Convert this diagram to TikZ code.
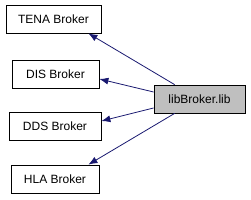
\documentclass[tikz,border=0pt]{standalone}
\usepackage{fontspec}
\setmainfont{Liberation Sans}
\usetikzlibrary{arrows.meta}
\begin{document}
\begin{tikzpicture}[x=1pt, y=1pt, font=\fontsize{12}{14}\selectfont, >={Latex[length=9pt,width=7pt]},
        dep/.style={draw=black, line width=0.8pt, minimum height=28pt, inner sep=0pt},
        libbox/.style={dep, fill=black!25}, link/.style={->, draw={rgb,255:red,25;green,25;blue,112}, line width=0.8pt}]
      \useasboundingbox (0,0) rectangle (251,200);
      \node[dep, minimum width=95pt]    (tena) at (53.5,181)  {TENA Broker};
      \node[dep, minimum width=87pt]    (dis)  at (55.5,126)  {DIS Broker};
      \node[dep, minimum width=92pt]    (dds)  at (55,73.5)   {DDS Broker};
      \node[dep, minimum width=88pt]    (hla)  at (55,21)     {HLA Broker};
      \node[libbox, minimum width=91pt] (lib)  at (199.5,101) {libBroker.lib};
      \draw[link] ([xshift=21pt]lib.north west) -- ([xshift=-13pt]tena.south east);
      \draw[link] ([yshift=7pt]lib.west) -- ([yshift=-5pt]dis.east);
      \draw[link] ([yshift=-9pt]lib.west) -- ([yshift=5.5pt]dds.east);
      \draw[link] ([xshift=21pt]lib.south west) -- ([xshift=-11pt]hla.north east);
    \end{tikzpicture}
\end{document}
